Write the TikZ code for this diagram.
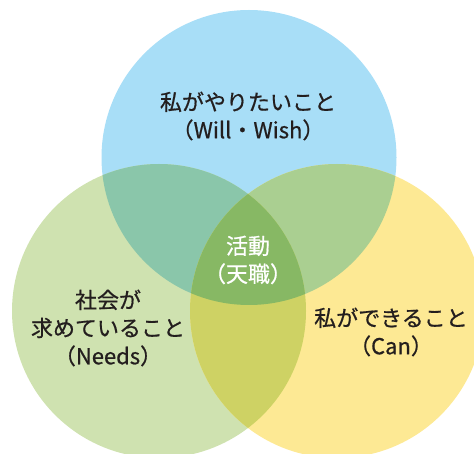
\documentclass[tikz,border=0pt]{standalone}
\usepackage{fontspec}
\newfontfamily\jp{Noto Sans CJK JP}[FakeBold=0.7]
\definecolor{cblue}{RGB}{168,222,247}
\definecolor{cgreen}{RGB}{207,226,176}
\definecolor{cyellow}{RGB}{253,233,148}
\definecolor{cbg}{RGB}{138,198,170}
\definecolor{cby}{RGB}{170,207,145}
\definecolor{cgy}{RGB}{206,210,100}
\definecolor{ccenter}{RGB}{135,184,100}
\definecolor{ink}{RGB}{35,30,30}
\tikzset{
  lbl/.style={font=\jp\fontsize{22}{28}\selectfont, text=ink, align=center, inner sep=0pt},
  lblw/.style={lbl, text=white}
}
\begin{document}
\begin{tikzpicture}[x=1pt,y=-1pt]
\useasboundingbox (0,0) rectangle (474,454);
\def\cT{(249,157.5) circle[radius=147.5]}
\def\cL{(159,311) circle[radius=147]}
\def\cR{(337,311) circle[radius=147]}
\fill[cblue] \cT;
\fill[cgreen] \cL;
\fill[cyellow] \cR;
\begin{scope}\clip \cT; \fill[cbg] \cL; \end{scope}
\begin{scope}\clip \cT; \fill[cby] \cR; \end{scope}
\begin{scope}\clip \cL; \fill[cgy] \cR; \end{scope}
\begin{scope}\clip \cT; \clip \cL; \fill[ccenter] \cR; \end{scope}
\node[lbl] (will) at (248,116) {私がやりたいこと\\（Will・Wish）};
\node[lblw] (ten) at (248,260) {活動\\（天職）};
\node[lbl] (needs) at (108,328) {社会が\\求めていること\\（Needs）};
\node[lbl] (can) at (391,332) {私ができること\\（Can）};
\end{tikzpicture}
\end{document}
